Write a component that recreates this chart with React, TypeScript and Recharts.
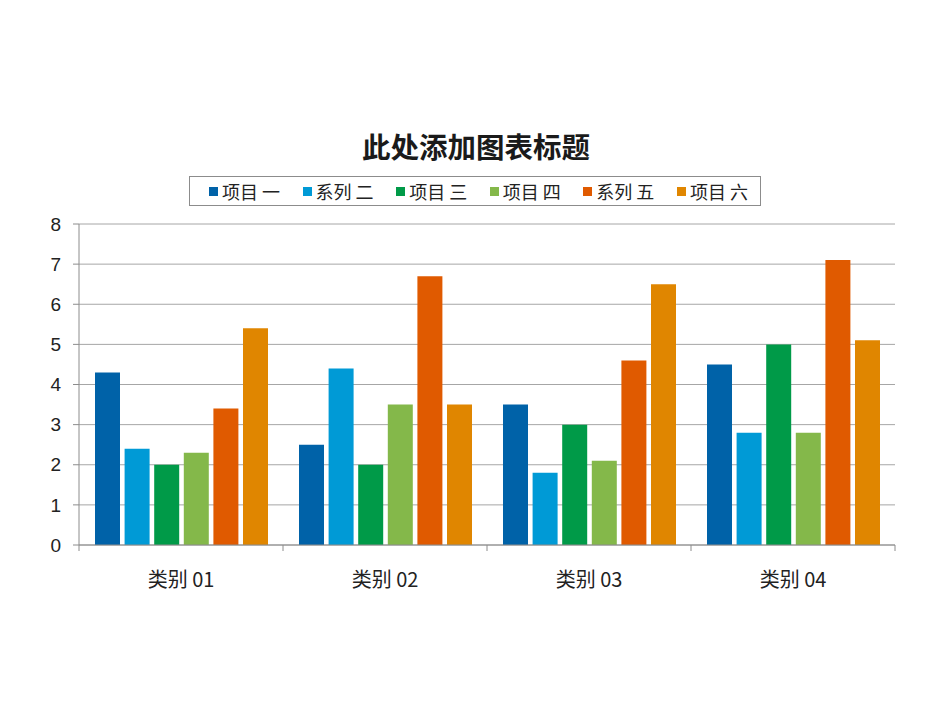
import { BarChart, Bar, CartesianGrid, XAxis, YAxis } from "recharts";

const categories = ["类别 01", "类别 02", "类别 03", "类别 04"];
const seriesNames = ["项目 一", "系列 二", "项目 三", "项目 四", "系列 五", "项目 六"];
const seriesColors = ["#0062a8", "#009ad6", "#009a48", "#84b84a", "#e05a00", "#e08600"];

const s1 = [4.3, 2.5, 3.5, 4.5];
const s2 = [2.4, 4.4, 1.8, 2.8];
const s3 = [2.0, 2.0, 3.0, 5.0];
const s4 = [2.3, 3.5, 2.1, 2.8];
const s5 = [3.4, 6.7, 4.6, 7.1];
const s6 = [5.4, 3.5, 6.5, 5.1];
const seriesValues = [s1, s2, s3, s4, s5, s6];

const yTicks = [0, 1, 2, 3, 4, 5, 6, 7, 8];

const data = categories.map((name, i) => {
    const row: Record<string, string | number> = { name };
    seriesValues.forEach((vals, k) => {
        row["s" + k] = vals[i];
    });
    return row;
});

const axisGray = "#8c8c8c";
const cjkFont = '"Noto Sans CJK SC", "Liberation Sans", sans-serif';

// category label plus the little tick marks on the band edges
function CategoryTick(props: any) {
    const { x, y, payload, index } = props;
    const half = payload && payload.offset ? payload.offset : 102;
    const axisY = y - 28;
    const last = index === categories.length - 1;
    return (
        <g>
            <line x1={x - half} x2={x - half} y1={axisY} y2={axisY + 6} stroke={axisGray} />
            {last && <line x1={x + half} x2={x + half} y1={axisY} y2={axisY + 6} stroke={axisGray} />}
            <text x={x} y={y} dy="0.71em" textAnchor="middle" fill="#222" fontSize={20} fontFamily={cjkFont}>
                {payload.value}
            </text>
        </g>
    );
}

export default function App() {
    return (
        <div style={{ position: "absolute", left: 0, top: 0, width: 950, height: 713, background: "#fff" }}>
            <div
                style={{
                    position: "absolute",
                    left: 0,
                    width: 952,
                    top: 126,
                    textAlign: "center",
                    fontFamily: cjkFont,
                    fontWeight: 700,
                    fontSize: 28.5,
                    lineHeight: "40px",
                    color: "#1a1a1a",
                }}
            >
                此处添加图表标题
            </div>

            <div
                style={{
                    position: "absolute",
                    left: 189,
                    top: 176,
                    width: 539,
                    height: 28,
                    paddingLeft: 19,
                    paddingRight: 12,
                    border: "1px solid #8c8c8c",
                    display: "flex",
                    alignItems: "center",
                    justifyContent: "space-between",
                    fontFamily: cjkFont,
                    fontSize: 18,
                    color: "#222",
                    boxSizing: "content-box",
                }}
            >
                {seriesNames.map((n, k) => (
                    <div key={n} style={{ display: "flex", alignItems: "center" }}>
                        <span
                            style={{
                                display: "inline-block",
                                width: 9,
                                height: 9,
                                background: seriesColors[k],
                                marginRight: 4,
                            }}
                        />
                        <span>{n}</span>
                    </div>
                ))}
            </div>

            <div style={{ position: "absolute", left: 0, top: 0 }}>
                <BarChart
                    width={950}
                    height={713}
                    data={data}
                    margin={{ top: 224, right: 55, bottom: 128, left: 0 }}
                    barSize={25}
                    barGap={4.6}
                >
                    <CartesianGrid horizontal vertical={false} stroke="#a6a6a6" />
                    <XAxis
                        dataKey="name"
                        height={40}
                        axisLine={{ stroke: axisGray }}
                        tickLine={false}
                        tickSize={0}
                        tickMargin={28}
                        tick={<CategoryTick />}
                    />
                    <YAxis
                        width={79}
                        domain={[0, 8]}
                        ticks={yTicks}
                        interval={0}
                        axisLine={{ stroke: axisGray }}
                        tickLine={{ stroke: axisGray }}
                        tickSize={6}
                        tickMargin={12}
                        tick={{ fill: "#222", fontSize: 19, fontFamily: '"Liberation Sans", Arial, sans-serif' }}
                    />
                    {seriesNames.map((n, k) => (
                        <Bar
                            key={n}
                            dataKey={"s" + k}
                            name={n}
                            fill={seriesColors[k]}
                            isAnimationActive={false}
                        />
                    ))}
                </BarChart>
            </div>
        </div>
    );
}
